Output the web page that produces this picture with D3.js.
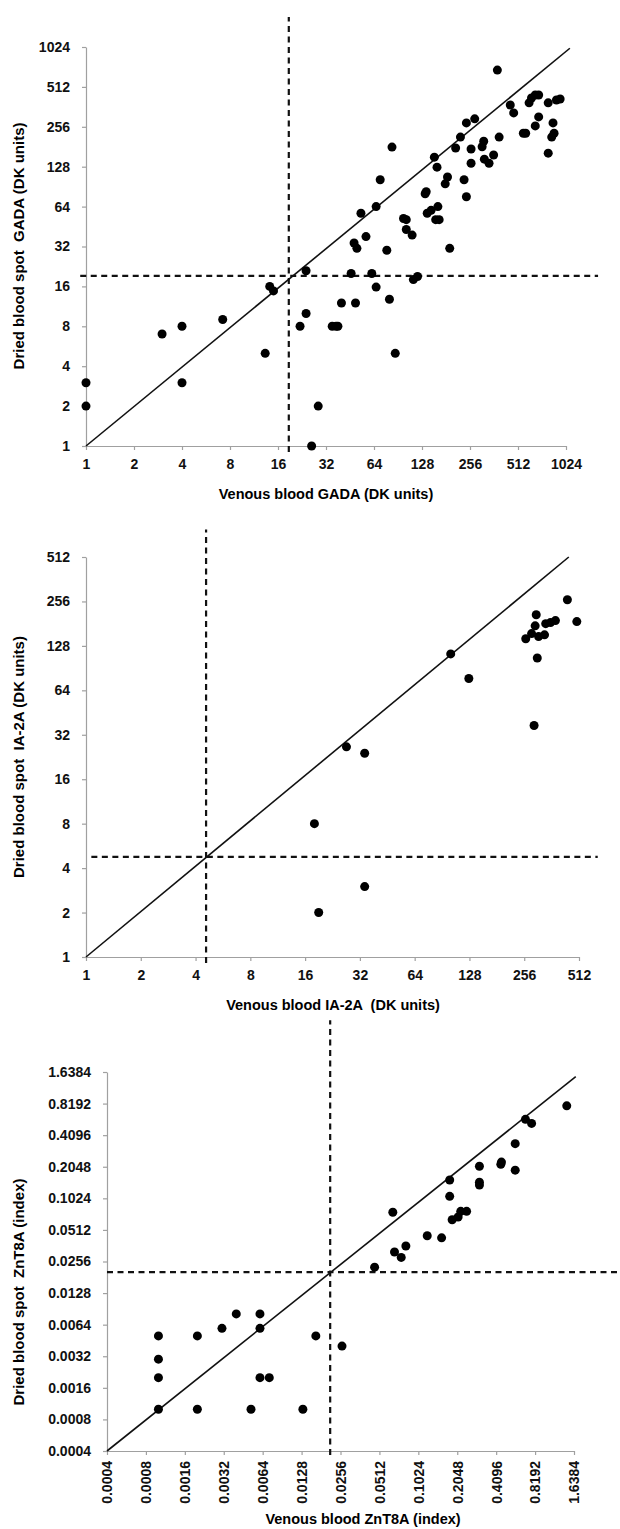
<!DOCTYPE html>
<meta charset="utf-8">
<html>
<head>
<script src="https://d3js.org/d3.v7.min.js"></script>
<style>
  body { margin: 0; background: #fff; }
  text { font-family: "Liberation Sans", Arial, sans-serif; font-weight: bold; }
</style>
</head>
<body>
<div id="my_dataviz"></div>
<script>
  // venous value, dried blood spot value
  var gadaPoints = [[380,686],[458,374],[481,326],[601,388],[622,422],[657,445],[690,445],[792,388],[892,408],[941,415],
    [690,304],[657,260],[849,274],[553,229],[572,229],[862,229],[833,214],[792,162],[390,214],[243,274],[274,294],
    [223,214],[208,177],[260,174],[312,199],[305,181],[260,136],[315,146],[337,136],[360,157],[153,151],[159,127],
    [185,107],[179,95],[235,102],[243,76],[83,180],[70,102],[136,83],[134,80],[66,64],[53,57],[98,52],[102,51],
    [161,64],[146,60],[138,57],[156,51],[164,51],[102,43],[111,39],[57,38],[48,34],[50,31],[77,30],[191,31],
    [46,20],[62,20],[24,21],[113,18],[120,19],[14.2,16],[15,14.8],[66,15.8],[80,12.8],[40,12],[49,12],[24,10],
    [22,8],[35,8],[37,8],[38,8],[7.2,9],[4,8],[3,7],[13.3,5],[87,5],[1,3],[4,3],[1,2],[28.6,2],[26,1]];
  var ia2aPoints = [[101,113],[127,77],[261,143],[298,208],[294,175],[281,155],[307,148],[331,152],[336,181],
    [357,184],[380,190],[442,263],[498,187],[302,106],[290,37],[27,26.5],[34,24],[18,8],[34,3],[19,2]];
  var znt8aPoints = [[1.44,0.78],[0.69,0.58],[0.77,0.53],[0.575,0.34],[0.575,0.19],[0.45,0.227],[0.445,0.216],
    [0.304,0.207],[0.304,0.146],[0.304,0.137],[0.179,0.153],[0.179,0.107],[0.187,0.064],[0.208,0.068],[0.218,0.077],
    [0.242,0.077],[0.12,0.045],[0.155,0.043],[0.065,0.0755],[0.067,0.0315],[0.0755,0.028],[0.082,0.036],[0.047,0.0226],
    [0.001,0.005],[0.001,0.003],[0.001,0.002],[0.001,0.001],[0.002,0.005],[0.002,0.001],[0.0031,0.0059],[0.004,0.0081],
    [0.0061,0.0081],[0.0061,0.0059],[0.0061,0.002],[0.0072,0.002],[0.0052,0.001],[0.0131,0.001],[0.0165,0.005],[0.0263,0.004]];

  // tick values
  var gadaTicks = [1,2,4,8,16,32,64,128,256,512,1024];
  var ia2aTicks = [1,2,4,8,16,32,64,128,256,512];
  var znt8aTicks = [0.0004,0.0008,0.0016,0.0032,0.0064,0.0128,0.0256,0.0512,0.1024,0.2048,0.4096,0.8192,1.6384];

  // cut-offs [venous, dbs] and line of identity end points
  var gadaCutoff = [18.7, 19.2];
  var ia2aCutoff = [4.57, 4.76];
  var znt8aCutoff = [0.0213, 0.0203];
  var gadaDiagonal = [[1,1],[1083,1002]];
  var ia2aDiagonal = [[1,1],[450,512]];
  var znt8aDiagonal = [[0.0004,0.0004],[1.69,1.48]];
  // how far the dashed cut-off lines run, in data units: [vertical y from, to], [horizontal x from, to]
  var gadaCutExtent = [[0.9,1722],[0.92,1627]];
  var ia2aCutExtent = [[0.91,787],[1.07,649]];
  var znt8aCutExtent = [[0.000366,5.1],[0.0004,3.67]];

  var svg = d3.select("#my_dataviz")
    .append("svg")
      .attr("width", 620)
      .attr("height", 1529);

  function drawPanel(p) {
    var x = d3.scaleLog().base(2).domain(p.domain).range([p.left, p.right]);
    var y = d3.scaleLog().base(2).domain(p.domain).range([p.bottom, p.top]);
    var g = svg.append("g");

    var xAxis = g.append("g")
      .attr("transform", "translate(0," + p.bottom + ")")
      .call(d3.axisBottom(x).tickValues(p.ticks).tickFormat(p.format).tickSize(4).tickSizeOuter(0).tickPadding(9));
    var yAxis = g.append("g")
      .attr("transform", "translate(" + p.left + ",0)")
      .call(d3.axisLeft(y).tickValues(p.ticks).tickFormat(p.format).tickSize(4).tickSizeOuter(0).tickPadding(12));

    g.selectAll(".domain, .tick line").attr("stroke", "#a0a0a0").attr("stroke-width", 1.2);
    g.selectAll(".tick text").style("font-size", "14px").attr("fill", "#111");

    if (p.rotateX) {
      xAxis.selectAll(".tick text")
        .attr("transform", "rotate(-90)")
        .attr("x", -10)
        .attr("y", 0)
        .attr("dy", "0.35em")
        .style("text-anchor", "end");
    }

    // cut-off lines
    g.append("line")
      .attr("x1", x(p.cutoff[0])).attr("x2", x(p.cutoff[0]))
      .attr("y1", y(p.cutExtent[0][0])).attr("y2", y(p.cutExtent[0][1]))
      .attr("stroke", "#111").attr("stroke-width", 2.2).attr("stroke-dasharray", "6,4.5");
    g.append("line")
      .attr("x1", x(p.cutExtent[1][0])).attr("x2", x(p.cutExtent[1][1]))
      .attr("y1", y(p.cutoff[1])).attr("y2", y(p.cutoff[1]))
      .attr("stroke", "#111").attr("stroke-width", 2.2).attr("stroke-dasharray", "6,4.5");

    // line of identity
    g.append("path")
      .datum(p.diagonal)
      .attr("d", d3.line().x(function(d) { return x(d[0]); }).y(function(d) { return y(d[1]); }))
      .attr("stroke", "#111").attr("stroke-width", 1.6).attr("fill", "none");

    g.selectAll("circle")
      .data(p.points)
      .enter()
      .append("circle")
        .attr("cx", function(d) { return x(d[0]); })
        .attr("cy", function(d) { return y(d[1]); })
        .attr("r", 4.5)
        .attr("fill", "#000");

    g.append("text")
      .attr("x", p.xTitlePos[0]).attr("y", p.xTitlePos[1])
      .attr("text-anchor", "middle")
      .style("font-size", "14.5px").style("white-space", "pre")
      .text(p.xTitle);
    g.append("text")
      .attr("transform", "translate(" + p.yTitlePos[0] + "," + p.yTitlePos[1] + ")rotate(-90)")
      .attr("text-anchor", "middle")
      .style("font-size", "15px").style("white-space", "pre")
      .text(p.yTitle);
  }

  drawPanel({
    points: gadaPoints, ticks: gadaTicks, domain: [1, 1024], format: d3.format("d"),
    cutoff: gadaCutoff, diagonal: gadaDiagonal, cutExtent: gadaCutExtent,
    left: 86, right: 566, top: 47, bottom: 446,
    xTitle: "Venous blood GADA (DK units)", xTitlePos: [326, 499],
    yTitle: "Dried blood spot  GADA (DK units)", yTitlePos: [24, 246]
  });

  drawPanel({
    points: ia2aPoints, ticks: ia2aTicks, domain: [1, 512], format: d3.format("d"),
    cutoff: ia2aCutoff, diagonal: ia2aDiagonal, cutExtent: ia2aCutExtent,
    left: 86, right: 579, top: 557, bottom: 957,
    xTitle: "Venous blood IA-2A  (DK units)", xTitlePos: [333, 1010],
    yTitle: "Dried blood spot  IA-2A (DK units)", yTitlePos: [24, 757]
  });

  drawPanel({
    points: znt8aPoints, ticks: znt8aTicks, domain: [0.0004, 1.6384], format: function(d) { return String(+d.toFixed(4)); },
    cutoff: znt8aCutoff, diagonal: znt8aDiagonal, cutExtent: znt8aCutExtent,
    left: 107, right: 574, top: 1072, bottom: 1451, rotateX: true,
    xTitle: "Venous blood ZnT8A (index)", xTitlePos: [363, 1524],
    yTitle: "Dried blood spot  ZnT8A (index)", yTitlePos: [24, 1292]
  });
</script>
</body>
</html>
